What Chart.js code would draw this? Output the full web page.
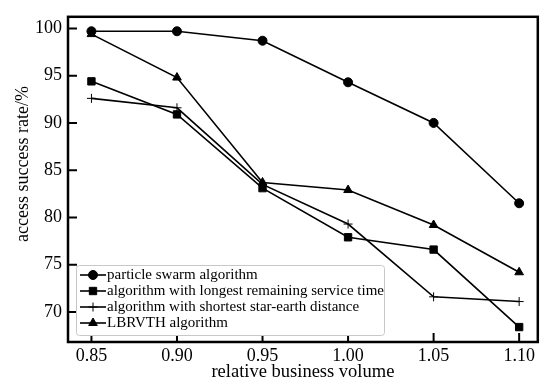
<!DOCTYPE html>
<html>
<head>
<meta charset="utf-8">
<script src="https://cdn.jsdelivr.net/npm/chart.js@4/dist/chart.umd.min.js"></script>
<style>
html, body { margin: 0; padding: 0; background: #fff; }
#wrap { width: 544px; height: 383px; }
</style>
</head>
<body>
<div id="wrap"><canvas id="chart"></canvas></div>
<script>
const volumes = [0.85, 0.90, 0.95, 1.00, 1.05, 1.10];
const particleSwarm = [99.7, 99.7, 98.7, 94.3, 90.0, 81.5];
const longestService = [94.4, 90.9, 83.1, 77.9, 76.6, 68.4];
const shortestDistance = [92.6, 91.6, 83.5, 79.3, 71.6, 71.1];
const lbrvth = [99.4, 94.8, 83.7, 82.9, 79.2, 74.2];
const xTicks = [0.85, 0.90, 0.95, 1.00, 1.05, 1.10];
const yTicks = [70, 75, 80, 85, 90, 95, 100];
const yTitle = 'access success rate/%';

const serif = '"Liberation Serif", "Times New Roman", serif';

function pts(values) {
    return volumes.map((v, i) => ({ x: v, y: values[i] }));
}

function line(label, values, style, r) {
    return {
        label: label,
        data: pts(values),
        borderColor: '#000',
        borderWidth: 1.6,
        backgroundColor: '#000',
        pointStyle: style,
        pointRadius: r,
        pointHoverRadius: r,
        pointBackgroundColor: '#000',
        pointBorderColor: '#000',
        pointBorderWidth: 1,
        tension: 0,
        fill: false
    };
}

// frame, inward tick marks, y title and the legend inside the plot
const framePlugin = {
    id: 'frame',
    afterDraw(chart) {
        const ctx = chart.ctx, a = chart.chartArea;
        const xs = chart.scales.x, ys = chart.scales.y;
        ctx.save();
        ctx.strokeStyle = '#000';
        ctx.lineWidth = 2.5;
        ctx.strokeRect(a.left, a.top, a.right - a.left, a.bottom - a.top);

        ctx.lineWidth = 2;
        ctx.beginPath();
        xTicks.forEach(v => {
            const px = xs.getPixelForValue(v);
            ctx.moveTo(px, a.bottom);
            ctx.lineTo(px, a.bottom - 9);
        });
        yTicks.forEach(v => {
            const py = ys.getPixelForValue(v);
            ctx.moveTo(a.left, py);
            ctx.lineTo(a.left + 9, py);
        });
        ctx.stroke();

        // y axis title, sits a bit above the middle in the original
        ctx.fillStyle = '#000';
        ctx.font = '18px ' + serif;
        ctx.textAlign = 'center';
        ctx.textBaseline = 'middle';
        ctx.translate(23, 164);
        ctx.rotate(-Math.PI / 2);
        ctx.fillText(yTitle, 0, 0);
        ctx.setTransform(1, 0, 0, 1, 0, 0);

        // legend
        const x0 = a.left + 8, y0 = a.bottom - 77, w = 308, h = 70;
        ctx.fillStyle = '#fff';
        ctx.strokeStyle = '#c8c8c8';
        ctx.lineWidth = 1;
        ctx.beginPath();
        ctx.roundRect(x0 + 0.5, y0 + 0.5, w, h, 3);
        ctx.fill();
        ctx.stroke();

        ctx.font = '15px ' + serif;
        ctx.textAlign = 'left';
        ctx.textBaseline = 'middle';
        chart.data.datasets.forEach((ds, i) => {
            const y = y0 + 10 + i * 16;
            ctx.strokeStyle = '#000';
            ctx.fillStyle = '#000';
            ctx.lineWidth = 1.6;
            ctx.beginPath();
            ctx.moveTo(x0 + 4, y);
            ctx.lineTo(x0 + 30, y);
            ctx.stroke();
            ctx.lineWidth = 1;
            Chart.helpers.drawPoint(ctx, { pointStyle: ds.pointStyle, radius: ds.pointRadius, borderWidth: 1, rotation: 0 }, x0 + 17, y);
            ctx.fillText(ds.label, x0 + 31, y);
        });
        ctx.restore();
    }
};

new Chart(document.getElementById('chart'), {
    type: 'line',
    data: {
        datasets: [
            line('particle swarm algorithm', particleSwarm, 'circle', 4.5),
            line('algorithm with longest remaining service time', longestService, 'rect', 5.2),
            line('algorithm with shortest star-earth distance', shortestDistance, 'cross', 4.5),
            line('LBRVTH algorithm', lbrvth, 'triangle', 5)
        ]
    },
    options: {
        responsive: true,
        maintainAspectRatio: false,
        animation: false,
        layout: { padding: { top: 9, right: 6, left: 0, bottom: 0 } },
        plugins: {
            legend: { display: false },
            tooltip: { enabled: false }
        },
        scales: {
            x: {
                type: 'linear',
                min: 0.8363,
                max: 1.1109,
                afterFit(scale) { scale.height = 41; },
                afterBuildTicks(scale) { scale.ticks = xTicks.map(v => ({ value: v })); },
                grid: { display: false, drawTicks: false },
                border: { display: false },
                ticks: {
                    color: '#000',
                    padding: 3,
                    maxRotation: 0,
                    autoSkip: false,
                    font: { family: serif, size: 18 },
                    callback: v => Number(v).toFixed(2)
                },
                title: {
                    display: true,
                    text: 'relative business volume',
                    color: '#000',
                    padding: { top: 0, bottom: 0 },
                    font: { family: serif, size: 18.5 }
                }
            },
            y: {
                min: 66.82,
                max: 101.23,
                afterFit(scale) { scale.width = 68; },
                afterBuildTicks(scale) { scale.ticks = yTicks.map(v => ({ value: v })); },
                grid: { display: false, drawTicks: false },
                border: { display: false },
                ticks: {
                    color: '#000',
                    padding: 6,
                    autoSkip: false,
                    font: { family: serif, size: 18 }
                }
            }
        }
    },
    plugins: [framePlugin]
});
</script>
</body>
</html>
